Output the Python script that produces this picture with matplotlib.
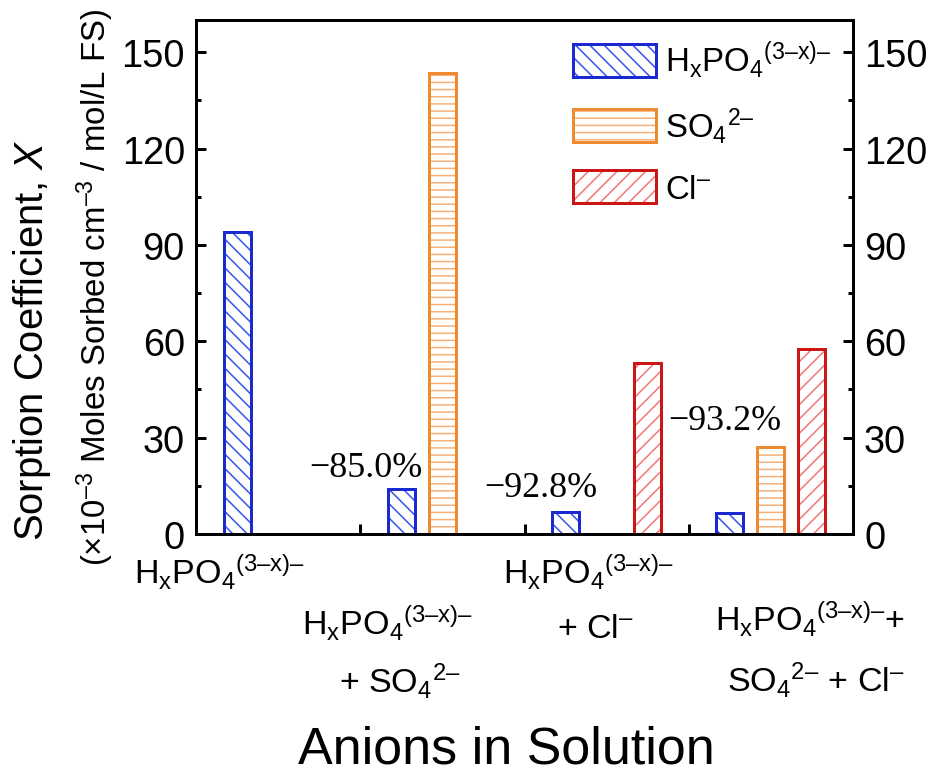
import numpy as np
import matplotlib
matplotlib.use("Agg")
import matplotlib.pyplot as plt
from matplotlib.legend_handler import HandlerTuple

# Data
groups = ["H", "H+SO4", "H+Cl", "H+SO4+Cl"]
phosphate = [94.0, 14.1, 6.8, 6.4]
sulfate = [None, 143.5, None, 27.0]
chloride = [None, None, 53.2, 57.6]
reductions = ["\u221285.0%", "\u221292.8%", "\u221293.2%"]
yticks = [0, 30, 60, 90, 120, 150]

DPI = 86
PT = 72.0 / DPI  # pixels -> points

plt.rcParams["font.family"] = ["Liberation Sans", "DejaVu Sans"]
plt.rcParams["mathtext.fontset"] = "custom"
plt.rcParams["mathtext.rm"] = "Liberation Sans"
plt.rcParams["mathtext.it"] = "Liberation Sans:italic"
plt.rcParams["mathtext.bf"] = "Liberation Sans:bold"
plt.rcParams["hatch.linewidth"] = 1.3

fig = plt.figure(figsize=(930 / DPI, 777 / DPI), dpi=DPI)
ax = fig.add_axes([196 / 930, 1 - 535 / 777, (853 - 196) / 930, (535 - 21) / 777])

# superscripts set after the subscript, as in the original figure
hpo = r"$\mathrm{H_x}{\mathrm{PO_4}}^{\text{(3–x)–}}$"
so4 = r"${\mathrm{SO_4}}^{\text{2–}}$"
cl = r"$\mathrm{Cl}^{\text{–}}$"

x = np.arange(len(groups))
width = 0.165
series = [
    (phosphate, -0.25, "#1a2ad0", "#3a55f0", "\\\\", hpo),
    (sulfate, 0.0, "#f08a30", "#f6b27a", "--", so4),
    (chloride, 0.25, "#cc1515", "#f07a7a", "//", cl),
]

handles, labels = [], []
for vals, off, edge, hcol, hatch, lab in series:
    xs = [xi + off for xi, v in zip(x, vals) if v is not None]
    hs = [v for v in vals if v is not None]
    hb = ax.bar(xs, hs, width, color="none", edgecolor=hcol, hatch=hatch, linewidth=0)
    ob = ax.bar(xs, hs, width, fill=False, edgecolor=edge, linewidth=3 * PT)
    handles.append((hb[0], ob[0]))
    labels.append(lab)

ax.set_xlim(-0.5, 3.5)
ax.set_ylim(0, 160)
ax.set_yticks(yticks)
ax.set_yticks(np.arange(15, 160, 30), minor=True)
ax.set_xticks([0.5, 1.5, 2.5])
ax.set_xticklabels([])
for s in ax.spines.values():
    s.set_linewidth(3 * PT)
ax.tick_params(axis="y", which="both", direction="in", left=True, right=True,
               labelleft=True, labelright=True, width=3 * PT,
               labelsize=38 * PT, pad=11 * PT)
ax.tick_params(axis="y", which="major", length=10 * PT)
ax.tick_params(axis="y", which="minor", length=5 * PT)
ax.tick_params(axis="x", which="major", direction="in", length=10 * PT, width=3 * PT)

# reduction annotations
ann_pos = [(0.535, 18.0), (1.60, 11.8), (2.72, 32.6)]
for (ax_x, ax_y), txt in zip(ann_pos, reductions):
    ax.text(ax_x, ax_y, txt, ha="center", va="baseline", fontsize=36 * PT,
            family=["Liberation Serif", "DejaVu Serif"])

# category labels (staggered, two lines)
cat_lines = [
    (-0.354, -15.5, hpo),
    (0.663, -31.4, hpo),
    (0.742, -49.1, "+ " + so4),
    (1.887, -15.5, hpo),
    (1.935, -32.0, "+ " + cl),
    (3.238, -30.1, hpo + "+"),
    (3.275, -48.8, so4 + " + " + cl),
]
for cx, cy, txt in cat_lines:
    ax.text(cx, cy, txt, ha="center", va="baseline", fontsize=34 * PT, clip_on=False)

fig.text(506 / 930, 1 - 764 / 777, "Anions in Solution", ha="center", va="baseline",
         fontsize=52 * PT)
fig.text(43 / 930, 1 - 340 / 777, r"Sorption Coefficient, $X$", rotation=90,
         rotation_mode="anchor", ha="center", va="baseline", fontsize=40 * PT)
fig.text(106 / 930, 1 - 287 / 777,
         r"(×10$^{\text{–3}}$ Moles Sorbed cm$^{\text{–3}}$ / mol/L FS)",
         rotation=90, rotation_mode="anchor", ha="center", va="baseline", fontsize=33 * PT)

fig.legend(handles, labels, handler_map={tuple: HandlerTuple(ndivide=1)},
           loc="upper left", bbox_to_anchor=(573 / 930, 1 - 40 / 777),
           frameon=False, borderpad=0, borderaxespad=0, fontsize=33 * PT,
           handlelength=2.5, handleheight=1.2, labelspacing=0.75, handletextpad=0.3)

fig.savefig("out.png", dpi=DPI)
